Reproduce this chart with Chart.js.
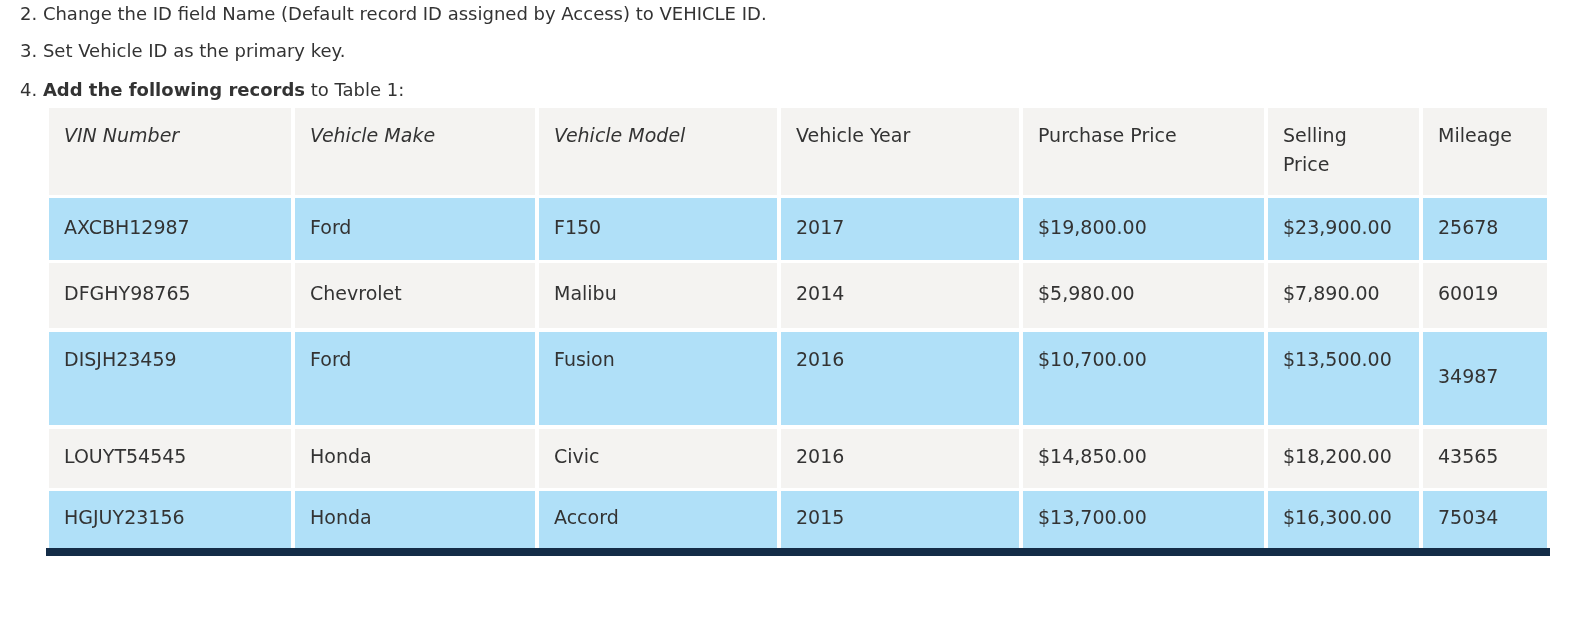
<!DOCTYPE html>
<html>
<head>
<meta charset="utf-8">
<script src="https://cdn.jsdelivr.net/npm/chart.js@4"></script>
<style>
html,body{margin:0;padding:0;background:#fff;font-family:"DejaVu Sans";}
#wrap{width:1569px;height:630px;}
</style>
</head>
<body>
<div id="wrap"><canvas id="tbl"></canvas></div>
<script>
// data
const headers = ['VIN Number', 'Vehicle Make', 'Vehicle Model', 'Vehicle Year', 'Purchase Price', 'Selling\nPrice', 'Mileage'];
const vins = ['AXCBH12987', 'DFGHY98765', 'DISJH23459', 'LOUYT54545', 'HGJUY23156'];
const makes = ['Ford', 'Chevrolet', 'Ford', 'Honda', 'Honda'];
const models = ['F150', 'Malibu', 'Fusion', 'Civic', 'Accord'];
const years = ['2017', '2014', '2016', '2016', '2015'];
const purchasePrices = ['$19,800.00', '$5,980.00', '$10,700.00', '$14,850.00', '$13,700.00'];
const sellingPrices = ['$23,900.00', '$7,890.00', '$13,500.00', '$18,200.00', '$16,300.00'];
const mileages = ['25678', '60019', '34987', '43565', '75034'];
const instructions = [
    ['', '2. Change the ID field Name (Default record ID assigned by Access) to VEHICLE ID.'],
    ['', '3. Set Vehicle ID as the primary key.'],
    ['4. ', 'Add the following records', ' to Table 1:']
];

// layout
const colEdges = [[49, 291], [295, 535], [539, 777], [781, 1019], [1023, 1264], [1268, 1419], [1423, 1547]];
const rowEdges = [[108, 195], [198, 260], [263, 328], [332, 425], [429, 488], [491, 548]];
const blue = '#b0e0f8', grey = '#f4f3f1', ink = '#333333';
const FAM = '"DejaVu Sans", Verdana, sans-serif';

const tablePlugin = {
    id: 'tablePlugin',
    beforeDatasetsDraw(chart) {
        const ctx = chart.ctx;
        const xs = chart.scales.x, ys = chart.scales.y;
        const X = v => xs.getPixelForValue(v), Y = v => ys.getPixelForValue(v);
        ctx.save();
        ctx.fillStyle = ink;
        ctx.textBaseline = 'middle';
        // instruction lines
        const lineY = [15, 52, 91];
        instructions.forEach((parts, i) => {
            let x = X(20);
            parts.forEach((p, j) => {
                ctx.font = (i === 2 && j === 1 ? 'bold ' : '') + '18px ' + FAM;
                ctx.fillText(p, x, Y(lineY[i]));
                x += ctx.measureText(p).width;
            });
        });
        // table cells
        const rows = [headers].concat(vins.map((v, i) => [v, makes[i], models[i], years[i], purchasePrices[i], sellingPrices[i], mileages[i]]));
        rows.forEach((row, r) => {
            const [t, b] = rowEdges[r];
            ctx.fillStyle = r % 2 === 1 ? blue : grey;
            colEdges.forEach(([l, rr]) => ctx.fillRect(X(l), Y(t), X(rr) - X(l), Y(b) - Y(t)));
            ctx.fillStyle = ink;
            row.forEach((txt, c) => {
                ctx.font = (r === 0 && c < 3 ? 'italic ' : '') + '19px ' + FAM;
                const lines = txt.split('\n');
                const cy = (r === 0 || (r === 3 && c < 6)) ? t + 29 : (t + b) / 2;
                lines.forEach((ln, k) => ctx.fillText(ln, X(colEdges[c][0] + 15), Y(cy + k * 29)));
            });
        });
        ctx.fillStyle = '#142c47';
        ctx.fillRect(X(46), Y(548), X(1550) - X(46), Y(556) - Y(548));
        ctx.restore();
    }
};

function build() {
    new Chart(document.getElementById('tbl'), {
        type: 'scatter',
        data: { datasets: [{ data: [] }] },
        options: {
            responsive: true,
            maintainAspectRatio: false,
            animation: false,
            layout: { padding: 0 },
            plugins: { legend: { display: false }, tooltip: { enabled: false } },
            scales: {
                x: { display: false, min: 0, max: 1569 },
                y: { display: false, min: 0, max: 630, reverse: true }
            }
        },
        plugins: [tablePlugin]
    });
}

Promise.all([
    document.fonts.load('18px "DejaVu Sans"'),
    document.fonts.load('bold 18px "DejaVu Sans"'),
    document.fonts.load('italic 19px "DejaVu Sans"')
]).then(build, build);
</script>
</body>
</html>
